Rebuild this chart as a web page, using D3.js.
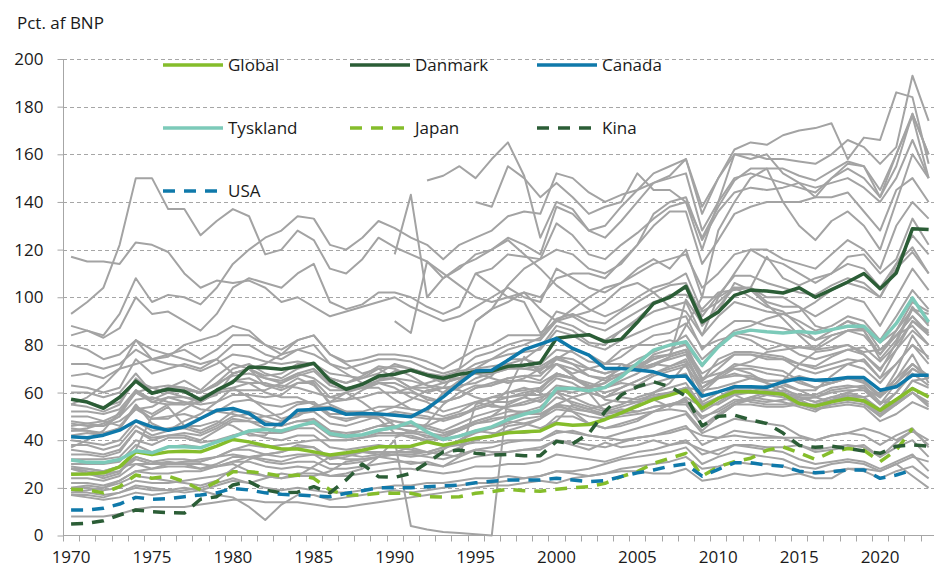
<!DOCTYPE html>
<html lang="da">
<head>
<meta charset="utf-8">
<title>Handel i pct. af BNP</title>
<script src="https://cdn.jsdelivr.net/npm/d3@7"></script>
<style>
  body { margin: 0; background: #fff; }
  svg text { font-family: "Open Sans", "Noto Sans", sans-serif; fill: #1a1a1a; }
</style>
</head>
<body>
<script>
var w = 934, h = 569;

// Aar 1970-2023
var years = d3.range(1970, 2024);
var yTicks = [0, 20, 40, 60, 80, 100, 120, 140, 160, 180, 200];
var xLabels = [1970, 1975, 1980, 1985, 1990, 1995, 2000, 2005, 2010, 2015, 2020];

// Fremhaevede serier
var global = [25.7,25.8,26.3,28.8,35.1,34.0,35.1,35.4,35.1,37.5, 40.3,39.3,37.7,36.3,36.3,35.1,33.8,34.7,35.8,37.2, 37.2,37.5,39.3,37.9,39.3,40.8,41.7,43.1,43.5,43.9, 47.0,46.3,46.6,48.7,51.5,54.3,57.1,58.9,61.0,53.3, 57.5,60.3,60.3,59.9,59.3,55.4,54.3,56.1,57.5,56.6, 52.6,57.1,61.7,58.2];
var danmark = [57.2,56.0,53.4,58.0,64.8,59.7,61.4,60.5,57.0,61.0, 64.4,70.7,70.4,69.8,70.8,72.3,65.0,61.4,63.5,66.9, 67.7,69.4,67.3,66.0,67.7,68.7,69.0,71.0,71.5,72.5, 82.8,83.6,84.3,81.3,82.4,89.5,97.4,100.0,104.6,89.6, 93.8,100.8,103.0,102.6,101.8,104.0,100.0,103.2,106.4,110.0, 103.6,110.2,128.8,128.4];
var canada = [41.4,41.0,42.1,44.2,48.1,45.6,44.2,45.6,49.1,52.6, 53.3,51.2,46.6,46.6,52.6,52.9,53.3,50.9,51.2,51.0, 50.5,49.8,53.3,58.2,63.8,69.0,69.4,73.6,78.0,80.3, 82.7,78.5,75.7,70.1,70.1,69.5,68.7,66.6,66.9,58.5, 60.3,62.4,62.4,62.2,64.5,65.9,65.2,65.5,66.3,66.3, 61.0,62.4,67.3,67.3];
var tyskland = [31.7,30.7,30.6,31.9,35.6,34.7,37.2,37.2,36.8,39.3, 41.4,43.9,44.5,43.9,45.9,47.7,42.8,41.7,42.3,44.2, 45.4,47.7,43.5,40.3,41.7,43.9,45.6,48.7,50.9,52.6, 61.7,61.7,60.7,62.1,66.6,72.3,77.8,79.9,81.3,71.5, 79.2,84.8,86.2,85.5,85.0,85.6,85.0,86.4,87.8,87.8, 81.3,89.0,99.7,89.6];
var japan = [19.4,19.1,17.9,20.5,25.4,24.0,24.9,22.6,19.1,22.6, 26.8,26.8,26.1,24.9,25.4,24.0,19.1,17.0,17.0,17.7, 17.7,17.7,16.3,16.1,16.3,17.7,18.4,19.4,18.8,18.6, 19.4,20.0,20.5,21.9,24.7,26.8,30.3,32.4,34.5,24.9, 28.8,31.0,32.4,35.8,37.2,34.7,31.9,35.1,36.5,35.8, 31.0,35.8,44.9,null];
var kina = [4.8,5.1,6.2,8.6,10.7,10.0,9.6,9.4,15.2,16.3, 21.2,22.6,19.1,17.9,18.2,20.5,17.9,23.3,30.0,24.7, 24.4,26.1,30.5,35.1,35.9,34.5,33.8,34.0,33.5,33.5, 39.5,38.5,42.8,52.0,59.0,62.5,64.5,62.5,58.5,46.0, 50.0,50.5,48.5,47.0,43.0,37.8,37.0,37.5,36.5,35.5, 34.5,37.5,38.0,37.5];
var usa = [10.7,10.7,11.4,13.2,16.0,15.2,15.5,16.3,17.0,17.9, 19.8,19.1,17.9,17.3,17.0,16.6,16.3,17.7,18.8,20.0, 20.0,20.0,20.5,20.8,21.2,22.1,22.8,23.3,23.3,23.3, 24.0,23.3,22.6,23.0,24.7,26.3,27.5,29.1,30.0,24.9, 27.8,30.5,30.5,29.6,29.1,27.0,26.3,26.8,27.5,27.5, 24.0,25.4,27.5,null];

// Oevrige lande (graa)
var n20 = d3.range(20).map(function() { return null; });
var n22 = d3.range(22).map(function() { return null; });
var n25 = d3.range(25).map(function() { return null; });
var others = [
  [8,8,8,9,11,12,12,12,13,14, 15,15,14,14,14,13,12,12,13,14, 15,16,17,18,19,20,21,21,22,23, 22,24,25,26,27,27,26,26,28,23, 24,26,25,26,25,26,24,24,28,28, 27,30,25,20],
  [17,17,16,18,20,19,19,18,19,17, 16,12,6.5,13,17,17,15,16,17,18, 19,18,19,20,21,22,22,23,24,25, 27,27,28,30,32,33,34,35,37,30, 33,35,34,33,32,29,28,30,31,30, 27,30,33,31],
  [20,20,19,20,23,22,22,23,24,25, 27,26,25,24,26,26,25,26,28,33, 40,4,2.5,1.5,1,0.5,0,60,62,60, 66,64,60,58,60,62,64,66,68,56, 60,63,62,61,60,56,54,56,57,56, 52,55,60,56],
  [18,18,17,18,21,20,19,20,19,21, 23,22,20,19,20,19,18,18,19,20, 21,21,22,22,23,24,24,25,24,25, 27,26,25,26,28,29,30,31,33,28, 29,31,30,30,29,27,26,27,28,27, 24,27,29,24],
  [22,22,21,23,27,26,26,27,27,29, 31,31,29,28,29,28,25,25,26,27, 28,28,27,26,27,29,29,30,30,31, 34,33,32,31,33,35,36,38,40,34, 36,38,37,36,35,32,30,31,32,31, 28,31,34,27],
  [24,24,23,25,30,28,29,29,28,30, 33,33,31,30,31,31,28,28,29,30, 31,31,30,29,31,33,34,35,36,36, 40,39,38,37,39,41,42,44,46,38, 41,44,43,42,41,38,36,37,38,37, 33,37,40,33],
  [26,26,25,27,33,31,32,32,31,33, 36,36,34,33,34,34,30,30,31,33, 34,34,33,32,34,36,37,39,40,40, 44,43,42,41,43,45,47,49,51,43, 46,49,48,47,46,42,40,42,43,42, 38,42,45,37],
  [28,27,26,27,32,30,30,31,32,33, 34,33,32,31,33,34,33,32,32,33, 34,34,35,37,38,39,39,40,40,40, 43,44,42,41,40,41,42,43,45,42, 41,42,41,41,41,41,40,42,43,45, 43,40,44,40],
  [29,28,27,29,33,31,30,30,28,29, 31,33,34,35,37,37,33,34,35,35, 35,35,35,34,37,40,42,46,47,49, 53,52,50,49,50,51,52,53,52,44, 50,55,57,59,61,59,59,62,63,62, 55,64,72,66],
  [30,30,30,31,38,35,37,38,37,39, 42,44,43,43,45,45,40,40,41,43, 43,43,42,40,42,44,45,47,49,50, 55,54,52,50,51,52,54,55,56,49, 53,57,57,56,57,58,58,60,61,61, 55,60,70,66],
  [32,32,32,33,40,38,41,41,39,40, 42,43,41,40,42,42,37,36,37,38, 37,36,35,37,40,44,43,43,43,44, 50,50,47,45,46,48,52,55,55,46, 51,55,55,54,54,55,55,57,59,58, 53,60,68,63],
  [34,34,33,35,44,41,42,43,42,45, 49,48,47,46,48,48,44,43,44,46, 48,47,46,44,47,50,52,54,55,57, 63,62,60,58,62,65,68,71,74,62, 67,72,71,70,69,65,62,64,66,65, 59,66,72,67],
  [42,43,42,45,54,51,55,56,53,52, 51,49,50,51,55,56,51,51,50,50, 48,46,46,49,50,53,55,53,51,51, 54,53,52,51,52,54,57,54,58,54, 58,61,61,60,59,57,58,61,62,63, 56,56,65,62],
  [17,16,15,16,18,17,18,19,20,22, 24,22,24,26,25,25,27,31,32,33, 32,30,31,29,33,55,58,58,59,59, 60,55,53,55,58,57,59,60,62,61, 62,64,66,65,65,72,77,78,80,77, 78,84,88,80],
  [37,40,44,52,60,62,60,58,57,59, 68,70,63,63,62,60,58,60,56,51, 51,50,49,49,51,53,55,61,75,68, 72,67,62,64,72,69,71,75,99,89, 94,106,103,97,91,84,78,79,80,76, 69,81,95,89],
  [45,44,43,45,55,47,44,48,51,56, 62,64,64,62,66,63,56,57,61,64, 64,61,57,56,58,62,63,65,65,64, 68,66,63,62,64,63,67,69,71,62, 67,71,73,77,78,79,79,84,86,86, 76,86,98,94],
  [47,46,46,48,53,49,49,53,57,60, 65,64,60,58,58,55,50,48,50,51, 46,43,47,55,60,63,63,66,67,65, 72,70,67,65,67,71,75,76,78,65, 74,77,77,76,75,72,71,75,78,79, 73,80,90,84],
  [48,47,46,50,61,56,55,55,56,60, 61,61,61,64,68,66,61,61,62,62, 57,53,52,60,65,70,68,72,74,72, 78,77,73,72,75,80,84,85,89,79, 82,84,82,78,80,79,78,82,86,87, 81,86,95,93],
  [72,72,70,72,78,74,72,71,69,72, 76,75,73,72,73,72,68,67,66,70, 71,70,68,67,69,70,71,72,70,71, 75,72,67,66,68,70,72,71,73,64, 66,67,67,65,65,67,65,64,66,65, 58,69,84,74],
  [52,52,51,53,61,57,60,61,60,64, 67,68,66,64,67,69,63,61,62,65, 69,69,67,64,66,70,74,78,80,83, 91,93,90,89,94,98,102,105,106,92, 101,109,109,106,104,102,101,105,108,106, 100,112,119,110],
  [60,60,58,60,68,60,62,65,61,67, 72,70,67,68,72,72,66,64,67,71, 70,67,63,62,63,64,67,74,74,79, 88,86,81,80,86,91,97,101,101,95, 102,103,104,117,108,105,108,110,117,118, 110,116,133,122],
  [88,86,83,87,100,93,94,90,86,93, 104,108,106,104,110,114,98,95,97,102, 102,100,96,93,96,110,112,118,117,116, 131,126,118,116,122,127,133,138,140,125, 138,149,154,154,154,151,149,153,157,155, 145,160,177,160],
  [84,86,84,93,108,98,101,100,97,104, 114,120,125,128,134,133,122,120,125,132, 129,125,122,116,122,125,128,134,136,135, 152,150,144,140,143,145,148,151,158,138, 150,160,160,158,158,157,156,160,166,163, 156,163,193,174],
  [93,98,104,122,150,150,137,137,126,132, 137,134,118,120,128,124,112,110,116,125, 121,118,115,108,113,116,120,124,118,112, 105,100,95,92,95,100,104,106,110,94, 98,104,100,96,94,88,82,86,90,86, 74,82,96,88],
  [117,115,115,114,123,122,119,110,104,107, 106,107,104,98,100,96,92,94,96,98, 100,96,93,90,92,96,100,104,100,98, 112,108,104,102,106,110,114,116,118,104, 110,118,120,116,114,110,106,110,114,112, 104,114,126,118],
  [80,78,74,76,82,78,76,74,72,74, 68,70,72,76,78,76,72,68,64,66, 66,62,62,64,66,68,68,70,72,70, 74,78,76,72,72,70,74,76,88,100, 100,104,104,98,96,96,88,86,90,88, 78,84,92,84],
  [18,19,20,23,27,28,30,31,31,33, 36,38,37,38,39,40,40,40,41,42, 42,42,40,38,38,41,42,44,46,49, 55,52,47,45,47,49,52,55,57,46, 50,55,58,60,63,61,61,67,72,74, 66,78,90,86],
  [20,21,20,22,25,24,23,22,21,23, 28,32,34,35,38,37,32,33,35,34, 34,33,34,36,40,43,45,48,47,45, 48,55,53,51,53,52,54,55,57,50, 52,56,58,57,56,54,52,56,60,62, 58,66,76,64],
  [46,47,48,46,53,54,58,56,55,56, 59,59,58,59,64,64,55,52,52,54, 54,57,61,62,61,58,56,56,58,62, 67,66,63,57,56,56,58,59,62,55, 58,59,56,55,55,56,53,54,55,54, 48,51,56,53],
  [44,45,47,50,57,58,56,55,58,61, 62,58,53,49,51,54,54,52,50,49, 43,41,40,41,44,47,49,50,52,51, 55,58,60,52,52,55,60,64,72,55, 55,59,60,63,64,61,58,56,58,56, 51,56,65,66],
  [55,58,63,70,72,74,75,80,82,84, 88,86,80,76,82,84,76,72,68,70, 66,62,64,66,66,68,66,64,66,70, 72,68,70,72,78,80,80,82,80,66, 68,70,68,64,60,58,56,58,58,58, 52,56,60,55],
  [28,26,24,26,36,50,54,46,46,48, 46,42,42,48,50,54,56,60,62,64, 62,58,56,52,54,56,54,54,56,58, 60,62,62,64,68,70,72,74,76,62, 66,68,66,64,62,58,56,58,60,58, 60,64,70,66],
  [28,28,27,29,30,30,31,30,30,29, 30,27,25,24,25,29,33,34,33,34, 35,37,35,34,33,36,35,35,36,37, 40,38,36,39,37,38,40,38,39,36, 34,38,38,37,37,38,35,36,37,38, 33,39,44,38],
  n20.concat([41,44,41,42,45,48,50,55,58,56, 61,60,62,66,70,70,76,78,80,71, 80,86,88,91,93,94,98,103,106,104, 100,114,121,110]),
  n20.concat([118,143,100,108,112,118,120,125,122,118, 138,135,128,125,132,140,148,150,152,128, 140,150,152,150,148,146,144,150,154,150, 142,155,177,160]),
  n22.concat([149,151,155,150,158,165,151,125, 140,137,128,130,138,145,152,155,158,135, 150,162,165,164,168,170,171,173,158,167, 166,186,184,156]),
  n20.concat([60,62,60,62,70,90,95,105,112,116, 120,118,112,110,114,122,135,140,142,124, 136,144,146,145,146,148,146,148,150,146, 140,150,166,150]),
  n25.concat([140,138,155,150,142, 148,142,135,138,140,152,145,145,140,120, 140,160,158,160,152,148,142,142,144,136, 128,145,150,140]),
  n20.concat([90,85,115,110,105,100,98,100,102,100, 108,110,110,108,115,122,130,136,136,114, 124,135,138,140,140,140,142,150,156,155, 142,160,176,150]),
  n25.concat([110,105,100,98,85, 90,95,100,104,106,112,116,112,120,100, 128,140,150,154,140,130,124,132,136,130, 120,140,160,150]),
  n25.concat([90,95,98,102,95, 90,92,94,98,104,106,102,96,94,84, 100,110,120,120,116,114,112,118,124,120, 112,130,140,133]),
  [57,56,54,56,65,62,63,62,60,63, 68,70,66,65,68,70,64,62,63,65, 66,65,63,60,62,66,68,70,70,69, 75,74,70,68,70,72,74,76,78,68, 72,76,76,74,74,72,70,72,74,73, 66,72,80,75],
  [40,39,38,40,48,44,45,46,44,47, 52,52,50,48,51,52,47,46,48,50, 52,51,50,48,50,54,56,58,60,61, 68,66,64,62,65,68,72,75,77,65, 70,76,76,75,74,70,68,70,72,70, 64,72,80,72],
  [50,50,48,51,60,56,58,58,56,60, 65,66,63,61,64,65,58,57,58,60, 60,60,58,56,58,62,64,66,67,67, 74,72,70,68,70,74,77,80,84,74, 80,85,84,82,80,76,74,76,78,76, 70,78,86,80],
  [63,62,60,62,74,68,70,72,70,74, 80,80,76,74,78,80,72,70,72,74, 74,73,70,68,70,75,77,80,82,82, 90,88,84,82,86,90,94,96,98,84, 92,98,96,94,93,90,86,88,92,90, 82,92,103,95],
  [67,68,66,70,82,74,76,78,74,78, 84,84,80,78,82,84,76,73,74,76, 76,75,73,70,74,78,80,84,84,84, 94,92,88,86,90,94,98,100,104,88, 96,104,104,100,100,96,92,96,100,98, 88,100,112,103],
  [36,35,34,36,44,40,42,42,40,44, 48,48,45,44,46,47,42,41,42,44, 45,44,43,42,44,47,48,50,51,52, 58,56,54,52,54,56,58,60,62,52, 56,60,60,59,58,55,53,55,56,55, 50,55,60,54],
  [38,38,36,38,46,42,44,45,43,46, 50,51,48,46,48,49,44,42,44,46, 46,46,45,43,45,48,50,52,52,54, 60,58,55,53,55,58,60,62,64,54, 58,62,62,61,60,57,54,56,58,56, 50,56,62,58],
  [55,54,52,55,66,60,62,62,60,64, 70,72,68,66,70,72,66,64,66,68, 72,70,68,65,68,72,74,76,77,78, 86,84,80,78,82,85,88,90,92,78, 85,90,90,88,87,85,82,84,86,84, 76,84,92,85],
  [44,44,42,45,54,49,50,51,49,52, 56,57,55,54,56,56,50,49,50,52, 54,53,52,50,52,56,58,60,61,62, 68,66,62,60,62,65,68,70,72,60, 66,70,70,68,67,64,62,64,66,64, 58,64,72,66]
];

var lightGreen = "#85bd2b", darkGreen = "#2b5d36", blue = "#0f79aa", teal = "#7ccab9";
var highlight = [
  { name: "Global",   values: global,   color: lightGreen, dash: null },
  { name: "Danmark",  values: danmark,  color: darkGreen,  dash: null },
  { name: "Canada",   values: canada,   color: blue,       dash: null },
  { name: "Tyskland", values: tyskland, color: teal,       dash: null },
  { name: "Japan",    values: japan,    color: lightGreen, dash: "12,9" },
  { name: "Kina",     values: kina,     color: darkGreen,  dash: "12,9" },
  { name: "USA",      values: usa,      color: blue,       dash: "12,9" }
];

var svg = d3.select("body").append("svg")
  .attr("width", w)
  .attr("height", h);

var x = d3.scaleBand().domain(years).range([63, 63 + 54 * 16.18]);
var y = d3.scaleLinear().domain([0, 200]).range([535.5, 59]);
var cx = function(yr) { return x(yr) + x.bandwidth() / 2; };

// gitterlinjer
svg.append("g")
  .selectAll("line")
  .data(yTicks.filter(function(d) { return d > 0; }))
  .enter().append("line")
  .attr("x1", 63).attr("x2", w)
  .attr("y1", function(d) { return Math.round(y(d)) + 0.5; })
  .attr("y2", function(d) { return Math.round(y(d)) + 0.5; })
  .attr("stroke", "#a6a6a6")
  .attr("stroke-dasharray", "4,3");

// y-akse
var yAxis = svg.append("g")
  .attr("transform", "translate(63.5,0)")
  .call(d3.axisLeft(y).tickValues(yTicks).tickSize(6).tickPadding(14));
yAxis.select(".domain").attr("stroke", "#a6a6a6").attr("d", "M-0,535.5V59");
yAxis.selectAll(".tick line").attr("stroke", "#a6a6a6");
yAxis.selectAll("text").attr("font-size", "17px").attr("fill", "#1a1a1a");

// x-akse
var xAxis = svg.append("g")
  .attr("transform", "translate(0,535.5)")
  .call(d3.axisBottom(x).tickValues(xLabels).tickSize(0).tickPadding(15));
xAxis.select(".domain").attr("stroke", "#a6a6a6").attr("d", "M63,0H" + w);
xAxis.selectAll("text").attr("font-size", "17px").attr("fill", "#1a1a1a");
xAxis.selectAll(".xb")
  .data(years)
  .enter().append("line")
  .attr("class", "xb")
  .attr("x1", function(d) { return Math.round(x(d)) + 0.5; })
  .attr("x2", function(d) { return Math.round(x(d)) + 0.5; })
  .attr("y1", 0).attr("y2", 6)
  .attr("stroke", "#a6a6a6");

var line = d3.line()
  .defined(function(d) { return d != null; })
  .x(function(d, i) { return cx(years[i]); })
  .y(function(d) { return y(d); });

// graa lande
svg.append("g")
  .selectAll("path")
  .data(others)
  .enter().append("path")
  .attr("d", line)
  .attr("fill", "none")
  .attr("stroke", "#a3a3a3")
  .attr("stroke-width", 2)
  .attr("stroke-linejoin", "round");

// fremhaevede
svg.append("g")
  .selectAll("path")
  .data(highlight)
  .enter().append("path")
  .attr("d", function(d) { return line(d.values); })
  .attr("fill", "none")
  .attr("stroke", function(d) { return d.color; })
  .attr("stroke-width", 3.5)
  .attr("stroke-linejoin", "round")
  .attr("stroke-dasharray", function(d) { return d.dash; });

// legend
var legX = [163, 350, 537], legY = [65, 128, 191];
var leg = svg.append("g")
  .selectAll("g")
  .data(highlight)
  .enter().append("g")
  .attr("transform", function(d, i) {
    return "translate(" + legX[i % 3] + "," + legY[Math.floor(i / 3)] + ")";
  });
leg.append("line")
  .attr("x1", 0).attr("x2", 60)
  .attr("stroke", function(d) { return d.color; })
  .attr("stroke-width", 3.5)
  .attr("stroke-dasharray", function(d) { return d.dash; });
leg.append("text")
  .attr("x", 65)
  .attr("dy", "0.35em")
  .attr("font-size", "17px")
  .text(function(d) { return d.name; });

svg.append("text")
  .attr("x", 17).attr("y", 29)
  .attr("font-size", "17px")
  .text("Pct. af BNP");
</script>
</body>
</html>
